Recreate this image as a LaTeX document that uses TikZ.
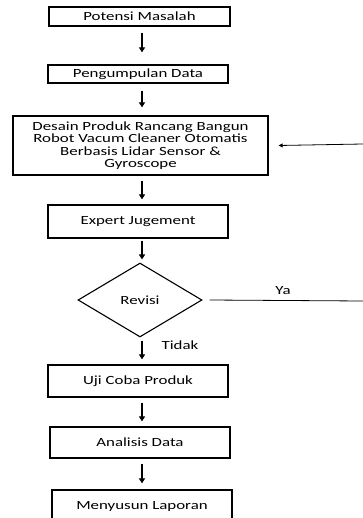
\documentclass[tikz,border=0pt]{standalone}
\usepackage{fontspec}
\setmainfont{Carlito}[FakeStretch=1.35]
\usetikzlibrary{shapes.geometric,arrows.meta}
\begin{document}
\begin{tikzpicture}[x=1pt,y=-1pt,
  box/.style={draw,line width=1.3pt,rectangle,inner sep=0pt,align=center,font=\fontsize{12.5}{12.5}\selectfont},
  dec/.style={draw,line width=1.1pt,diamond,aspect=1.68,inner sep=0pt,minimum width=124pt,minimum height=74pt,font=\fontsize{12.5}{12.5}\selectfont},
  arr/.style={line width=1.6pt,-{Triangle[length=5pt,width=6pt]}},
  thin arr/.style={line width=0.8pt,-{Triangle[length=4pt,width=4pt]}},
  lbl/.style={font=\fontsize{12.5}{12.5}\selectfont,inner sep=0pt}]
\useasboundingbox (0,0) rectangle (363,518);
\clip (0,0) rectangle (363,518);
\fill[white] (0,0) rectangle (363,518);
\node[box,minimum width=181pt,minimum height=19pt] (b1) at (139.5,16.5) {Potensi Masalah};
\node[box,minimum width=180pt,minimum height=18pt] (b2) at (138,74) {Pengumpulan Data};
\node[box,minimum width=255pt,minimum height=59pt] (b3) at (140.5,145.5) {Desain Produk Rancang Bangun\\Robot Vacum Cleaner Otomatis\\Berbasis Lidar Sensor \&\\Gyroscope};
\node[box,minimum width=180pt,minimum height=33pt] (b4) at (138,221.5) {Expert Jugement};
\node[dec] (d) at (140,300) {Revisi};
\node[box,minimum width=180pt,minimum height=32pt] (b5) at (138,381) {Uji Coba Produk};
\node[box,minimum width=180pt,minimum height=31pt] (b6) at (140,442.5) {Analisis Data};
\node[box,minimum width=180pt,minimum height=32pt] (b7) at (142,506) {Menyusun Laporan};
\coordinate (re) at (363,301);
\coordinate (ri) at (363,144);
\draw[arr] ([xshift=2.5pt,yshift=-6pt]b1.south) -- ([xshift=4pt,yshift=12pt]b2.north);
\draw[arr] ([xshift=4pt,yshift=-7pt]b2.south) -- ([xshift=1.5pt,yshift=8pt]b3.north);
\draw[arr] ([xshift=1.5pt,yshift=-5pt]b3.south) -- ([xshift=4pt,yshift=5pt]b4.north);
\draw[arr] ([xshift=4pt,yshift=-2pt]b4.south) -- ([xshift=2pt,yshift=3pt]d.north);
\draw[arr] ([xshift=2pt,yshift=-3pt]d.south) -- ([xshift=4pt,yshift=5pt]b5.north);
\draw[arr] ([xshift=4pt,yshift=-5pt]b5.south) -- ([xshift=2pt,yshift=5pt]b6.north);
\draw[arr] ([xshift=2pt,yshift=-5.5pt]b6.south) -- ([xshift=0pt,yshift=6pt]b7.north);
\draw[line width=0.8pt] ([xshift=7pt]d.east) -- (re);
\draw[thin arr] (ri) -- ([xshift=10pt]b3.east);
\node[lbl] (ya) at (283,291) {Ya};
\node[lbl] (td) at (180,345) {Tidak};
\end{tikzpicture}
\end{document}
